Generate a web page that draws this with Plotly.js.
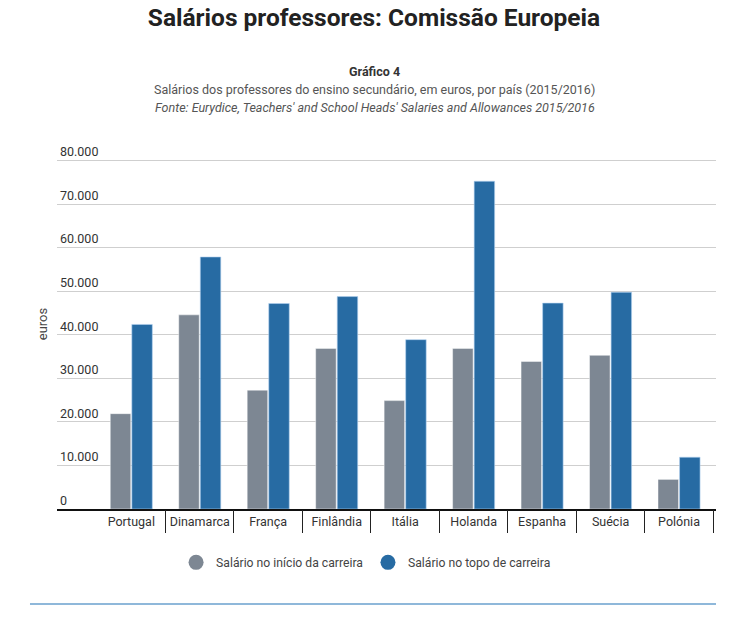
<!DOCTYPE html>
<html>
<head>
<meta charset="utf-8">
<script src="https://cdn.plot.ly/plotly-3.0.1.min.js"></script>
<style>html,body{margin:0;padding:0;background:#fff;}#chart{width:748px;height:622px;}</style>
</head>
<body>
<div id="chart"></div>
<script>
var countries = ["Portugal","Dinamarca","França","Finlândia","Itália","Holanda","Espanha","Suécia","Polónia"];
var salarioInicio = [21900, 44600, 27300, 36900, 24900, 36900, 33900, 35300, 6800];
var salarioTopo = [42400, 57900, 47200, 48800, 38900, 75300, 47300, 49800, 11900];
var seriesNames = ["Salário no início da carreira", "Salário no topo de carreira"];
var yTicks = [0, 10000, 20000, 30000, 40000, 50000, 60000, 70000, 80000];

// category boundaries (derived from the number of categories)
var boundaries = countries.map(function(c, i){ return i - 0.5; }).concat([countries.length - 0.5]);
var xRange = [-1.085, 8.54];

var grey = "#7d8793", blue = "#276ba3";
var traces = [
  {type:"bar", x:countries, y:salarioInicio, name:seriesNames[0], showlegend:false,
   marker:{color:grey, line:{color:"rgba(255,255,255,0.45)", width:1}}, hoverinfo:"y"},
  {type:"bar", x:countries, y:salarioTopo, name:seriesNames[1], showlegend:false,
   marker:{color:blue, line:{color:"rgba(180,210,240,0.6)", width:1}}, hoverinfo:"y"},
  {type:"scatter", mode:"markers", x:[null], y:[null], xaxis:"x2", name:seriesNames[0],
   marker:{color:grey, size:15, symbol:"circle"}},
  {type:"scatter", mode:"markers", x:[null], y:[null], xaxis:"x2", name:seriesNames[1],
   marker:{color:blue, size:15, symbol:"circle"}}
];

var layout = {
  width:748, height:622,
  margin:{l:57, r:32, t:139, b:113},
  paper_bgcolor:"#fff", plot_bgcolor:"#fff",
  font:{family:"Roboto, sans-serif", size:12, color:"#333"},
  separators:",.",
  barmode:"group", bargap:0.37, bargroupgap:0.05,
  title:{text:"<b>Salários professores: Comissão Europeia</b>", x:0.5, xanchor:"center",
         y:0.985, yanchor:"top", font:{size:24.5, color:"#222", family:"Roboto, sans-serif"}},
  xaxis:{type:"category", range:xRange, fixedrange:true,
         showline:true, linecolor:"#111", linewidth:2, tickangle:0,
         ticks:"", showgrid:false, tickfont:{size:12.5, color:"#333"}},
  xaxis2:{type:"linear", overlaying:"x", side:"bottom", anchor:"y", range:xRange, fixedrange:true,
          tickmode:"array", tickvals:boundaries, showticklabels:false,
          ticks:"outside", ticklen:23, tickcolor:"#222", tickwidth:1,
          showgrid:false, zeroline:false, showline:false},
  yaxis:{range:[0, 85000], tickvals:yTicks, tickformat:",d", fixedrange:true,
         ticklabelposition:"inside top", showgrid:true, gridcolor:"#cfcfcf", gridwidth:1,
         zeroline:false, showline:false, ticks:"",
         tickfont:{size:12.5, color:"#333"},
         title:{text:"euros", standoff:9, font:{size:13, color:"#444"}}},
  legend:{orientation:"h", x:0.469, xanchor:"center", y:-0.105, yanchor:"top",
          font:{size:12.2, color:"#444"}},
  annotations:[
    {text:"<b>Gráfico 4</b>", xref:"paper", yref:"paper", x:0.4825, y:1.0, yanchor:"bottom",
     yshift:58, showarrow:false, font:{size:12.5, color:"#333"}},
    {text:"Salários dos professores do ensino secundário, em euros, por país (2015/2016)", xref:"paper", yref:"paper",
     x:0.4825, y:1.0, yanchor:"bottom", yshift:40, showarrow:false, font:{size:12.5, color:"#555"}},
    {text:"<i>Fonte: Eurydice, Teachers' and School Heads' Salaries and Allowances 2015/2016</i>", xref:"paper", yref:"paper",
     x:0.4825, y:1.0, yanchor:"bottom", yshift:22, showarrow:false, font:{size:12.5, color:"#555"}}
  ],
  shapes:[
    {type:"line", xref:"paper", yref:"paper", x0:-0.041, x1:1.0, y0:-0.257, y1:-0.257,
     line:{color:"#8fb8da", width:2}}
  ]
};
Plotly.newPlot("chart", traces, layout, {displayModeBar:false, staticPlot:true});
</script>
</body>
</html>
